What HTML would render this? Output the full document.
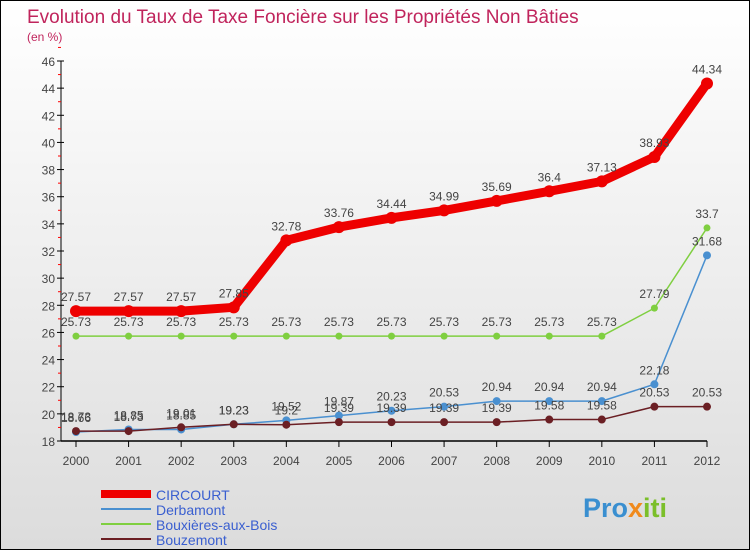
<!DOCTYPE html>
<html><head><meta charset="utf-8"><style>
body{margin:0;background:#fff}
#c{position:relative;width:748px;height:548px;border:1px solid #000;background:linear-gradient(#fff,#dcdcdc);overflow:hidden;font-family:"Liberation Sans",sans-serif}
svg text{font-family:"Liberation Sans",sans-serif}
</style></head><body>
<div id="c">
<svg id="s" width="748" height="548">
<text x="26" y="22" font-size="19" fill="#c0245c">Evolution du Taux de Taxe Foncière sur les Propriétés Non Bâties</text>
<text x="26" y="40" font-size="12" fill="#c0245c">(en %)</text>
<g id="g"></g>
<text x="582" y="516" font-size="27" font-weight="bold" fill="#3a8fd0">Pro<tspan fill="#f08a1c">x</tspan><tspan fill="#7bbf2a">iti</tspan></text>
</svg>
</div>
<script>
const years=[2000,2001,2002,2003,2004,2005,2006,2007,2008,2009,2010,2011,2012];
const circourt=[27.57,27.57,27.57,27.85,32.78,33.76,34.44,34.99,35.69,36.4,37.13,38.93,44.34];
const derbamont=[18.66,18.85,18.85,19.23,19.52,19.87,20.23,20.53,20.94,20.94,20.94,22.18,31.68];
const bouxieres=[25.73,25.73,25.73,25.73,25.73,25.73,25.73,25.73,25.73,25.73,25.73,27.79,33.7];
const bouzemont=[18.73,18.73,19.01,19.23,19.2,19.39,19.39,19.39,19.39,19.58,19.58,20.53,20.53];
const yTicks=[18,20,22,24,26,28,30,32,34,36,38,40,42,44,46];
const ns="http://www.w3.org/2000/svg",g=document.getElementById('g');
const X=i=>75+i*(706-75)/(years.length-1);
const Y=v=>440-(v-18)*380/28;
function el(t,a,name){const e=document.createElementNS(ns,t);for(const k in a)e.setAttribute(k,a[k]);


g.appendChild(e);return e;}
el('line',{x1:60,y1:60,x2:60,y2:440,stroke:'#000'},'y-axis');
el('line',{x1:60,y1:440,x2:706,y2:440,stroke:'#000','stroke-width':1.5},'x-axis');
yTicks.forEach(v=>{el('line',{x1:56,y1:Y(v),x2:63,y2:Y(v),stroke:'#000'},'y-tick');
el('line',{x1:57,y1:Y(v+1),x2:60,y2:Y(v+1),stroke:'red'},'y-minor-tick');
const t=el('text',{x:54,y:Y(v)+5,'font-size':12,fill:'#444','text-anchor':'end'},'y-tick-label');t.textContent=v;});
years.forEach((y,i)=>{el('line',{x1:X(i),y1:440,x2:X(i),y2:446,stroke:'#000'},'x-tick');
const t=el('text',{x:X(i),y:464,'font-size':12,fill:'#444','text-anchor':'middle'},'x-tick-label');t.textContent=y;});
function series(d,color,w,r,name){
el('polyline',{points:d.map((v,i)=>X(i)+','+Y(v)).join(' '),fill:'none',stroke:color,'stroke-width':w,'stroke-linejoin':'round'},name+'-line');
d.forEach((v,i)=>{el('circle',{cx:X(i),cy:Y(v),r:r,fill:color},name+'-point');
const t=el('text',{x:X(i),y:Y(v)-10,'font-size':12,fill:'#444','text-anchor':'middle'},name+'-value-label');t.textContent=v;});}
series(bouxieres,'#7fcf40',1.5,3.5,'bouxieres');
series(derbamont,'#4a90d0',1.5,4,'derbamont');
series(bouzemont,'#6b1f24',1.5,4,'bouzemont');
series(circourt,'#ee0000',9,6,'circourt');
const leg=[['CIRCOURT','#ee0000',8],['Derbamont','#4a90d0',2],['Bouxières-aux-Bois','#7fcf40',2],['Bouzemont','#6b1f24',2]];
leg.forEach((l,i)=>{const y=493+i*15;
el('line',{x1:100,y1:y,x2:150,y2:y,stroke:l[1],'stroke-width':l[2]},'legend-swatch');
const t=el('text',{x:155,y:y+6,'font-size':14,fill:'#3a5fd0'},'legend-entry');t.textContent=l[0];});
</script>
</body></html>
